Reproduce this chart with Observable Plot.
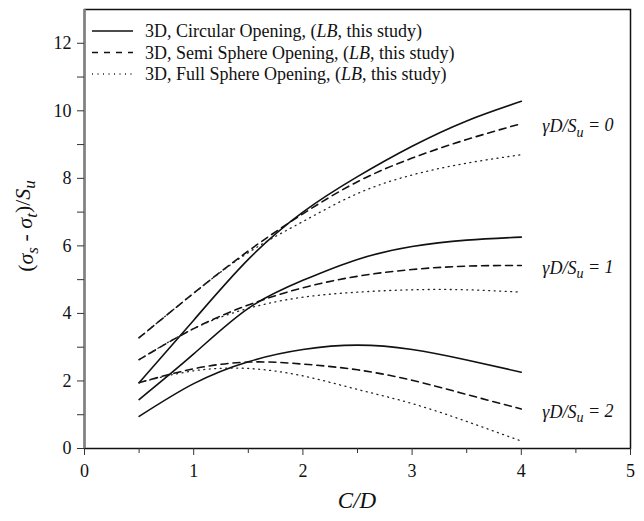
<!DOCTYPE html>
<html><head><meta charset="utf-8">
<script src="https://cdn.jsdelivr.net/npm/d3@7"></script>
<script src="https://cdn.jsdelivr.net/npm/@observablehq/plot@0.6"></script>
<style>
body{margin:0;background:#fff;}
#wrap{position:relative;width:644px;height:521px;}
</style></head><body><div id="wrap"></div>
<script>
// ---- data ----
const cd = [0.5, 1, 1.5, 2, 2.5, 3, 3.5, 4];
const gammaLevels = [0, 1, 2];
const openings = ["3D, Circular Opening", "3D, Semi Sphere Opening", "3D, Full Sphere Opening"];
const circ0 = [1.95, 3.8, 5.6, 7.0, 8.05, 8.95, 9.7, 10.28];
const semi0 = [3.28, 4.6, 5.85, 6.95, 7.9, 8.6, 9.15, 9.62];
const full0 = [3.28, 4.6, 5.8, 6.72, 7.55, 8.1, 8.45, 8.7];
const circ1 = [1.45, 2.8, 4.15, 4.98, 5.6, 5.98, 6.17, 6.26];
const semi1 = [2.63, 3.55, 4.25, 4.76, 5.1, 5.3, 5.4, 5.42];
const full1 = [2.63, 3.55, 4.15, 4.48, 4.63, 4.7, 4.7, 4.63];
const circ2 = [0.95, 1.92, 2.57, 2.93, 3.06, 2.93, 2.62, 2.26];
const semi2 = [1.95, 2.36, 2.56, 2.5, 2.33, 2.02, 1.6, 1.17];
const full2 = [1.95, 2.3, 2.37, 2.15, 1.75, 1.33, 0.8, 0.22];
const xTicks = [0, 1, 2, 3, 4, 5];
const xMinor = [0.5, 1.5, 2.5, 3.5, 4.5];
const yTicks = [0, 1, 2, 3, 4, 5, 6, 7, 8, 9, 10, 11, 12];

// ---- build table ----
const groups = [[circ0, semi0, full0], [circ1, semi1, full1], [circ2, semi2, full2]];
const rows = [];
groups.forEach((g, gi) => g.forEach((vals, oi) => vals.forEach((v, i) =>
  rows.push({x: cd[i], y: v, opening: oi, gamma: gammaLevels[gi], key: gi + "-" + oi}))));
const labels = gammaLevels.map((g, gi) => ({gamma: g, x: cd[cd.length - 1], y: groups[gi][1][cd.length - 1]}));

const styles = [
  {stroke: "#111", strokeWidth: 1.6},
  {stroke: "#111", strokeWidth: 1.6, strokeDasharray: "7,5"},
  {stroke: "#222", strokeWidth: 1.3, strokeDasharray: "1,4.5"}
];
const FONT = "Liberation Serif, Times New Roman, serif";

const chart = Plot.plot({
  width: 644, height: 521,
  marginLeft: 84, marginRight: 14, marginTop: 9, marginBottom: 73,
  x: {domain: [0, 5], axis: null},
  y: {domain: [0, 13], axis: null},
  style: {fontFamily: FONT, fontSize: "18px", color: "#111", background: "#fff"},
  marks: [
    Plot.frame({stroke: "#111", strokeWidth: 1.5}),
    Plot.ruleX([0], {stroke: "#808080", strokeWidth: 2.5}),
    Plot.axisX({ticks: xTicks, tickSize: 7, tickPadding: 9, fontSize: 18, stroke: "#333",
      label: null, tickFormat: d => String(d)}),
    Plot.axisX({ticks: xMinor, tickSize: 5, tickFormat: () => "", stroke: "#333", label: null}),
    Plot.axisY({ticks: yTicks, tickSize: 7, tickPadding: 6, fontSize: 18, stroke: "#333", label: null,
      tickFormat: d => d % 2 === 0 ? String(d) : ""}),
    ...styles.map((s, oi) => Plot.line(rows.filter(d => d.opening === oi),
      {x: "x", y: "y", z: "key", curve: "natural", ...s})),
    Plot.text(labels, {x: "x", y: "y", dx: 21, dy: 3, textAnchor: "start",
      text: d => "γD/Su = " + d.gamma, fontStyle: "italic", fontSize: 18})
  ]
});
document.getElementById("wrap").appendChild(chart);

const svg = d3.select(chart);
// subscripts in right labels
svg.selectAll("text").each(function() {
  const t = d3.select(this);
  const s = t.text();
  const m = /^γD\/Su = (\d)$/.exec(s);
  if (m) {
    t.text("");
    t.append("tspan").text("γD/S");
    t.append("tspan").attr("dy", "0.3em").attr("font-size", "14").text("u");
    t.append("tspan").attr("dy", "-0.3em").text(" = " + m[1]);
  }
});

// y title
const yt = svg.append("text")
  .attr("transform", "translate(33,226) rotate(-90)")
  .attr("text-anchor", "middle")
  .attr("font-family", FONT).attr("font-size", 22).attr("fill", "#111");
yt.append("tspan").text("(");
yt.append("tspan").attr("font-style", "italic").text("σ");
yt.append("tspan").attr("font-style", "italic").attr("font-size", 17).attr("dy", "0.3em").text("s");
yt.append("tspan").attr("dy", "-0.3em").text(" - ");
yt.append("tspan").attr("font-style", "italic").text("σ");
yt.append("tspan").attr("font-style", "italic").attr("font-size", 17).attr("dy", "0.3em").text("t");
yt.append("tspan").attr("dy", "-0.3em").text(")/");
yt.append("tspan").attr("font-style", "italic").text("S");
yt.append("tspan").attr("font-style", "italic").attr("font-size", 17).attr("dy", "0.3em").text("u");

// x title
svg.append("text").attr("x", 357).attr("y", 508).attr("text-anchor", "middle")
  .attr("font-family", FONT).attr("font-size", 23).attr("font-style", "italic").attr("fill", "#111")
  .text("C/D");

// legend
const lg = svg.append("g").attr("font-family", FONT).attr("font-size", 18).attr("fill", "#111")
  .attr("text-anchor", "start");
openings.forEach((name, i) => {
  const yy = 31 + i * 21.5;
  const s = styles[i];
  lg.append("line").attr("x1", 92).attr("x2", 133).attr("y1", yy).attr("y2", yy)
    .attr("stroke", s.stroke).attr("stroke-width", s.strokeWidth)
    .attr("stroke-dasharray", i === 1 ? "6,6" : (s.strokeDasharray || null));
  const t = lg.append("text").attr("x", 145).attr("y", yy + 6).attr("text-anchor", "start");
  t.append("tspan").text(name + ", (");
  t.append("tspan").attr("font-style", "italic").text("LB");
  t.append("tspan").text(", this study)");
});
</script>
</body></html>
